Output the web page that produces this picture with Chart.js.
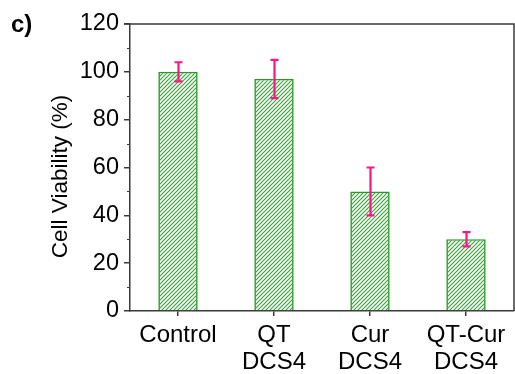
<!DOCTYPE html>
<html><head><meta charset="utf-8">
<script src="https://cdn.jsdelivr.net/npm/chart.js@4"></script>
<style>html,body{margin:0;padding:0;background:#fff}canvas{display:block}</style>
</head><body>
<canvas id="c" width="515" height="374"></canvas>
<script>
// Cell viability per treatment group (mean and error)
const categories = ['Control', ['QT', 'DCS4'], ['Cur', 'DCS4'], ['QT-Cur', 'DCS4']];
const viability = [100, 97, 50, 30];
const viabilityErr = [4, 8, 10, 3];
const yMajorStep = 20;
const yMinorTicks = [10, 30, 50, 70, 90, 110];
const yTitle = 'Cell Viability (%)';
const panelLabel = 'c)';

const canvas = document.getElementById('c');
const ctx = canvas.getContext('2d');

// diagonal green hatch fill for the bars
function makeHatch() {
  const t = document.createElement('canvas');
  t.width = 4; t.height = 4;
  const g = t.getContext('2d');
  g.fillStyle = '#ffffff';
  g.fillRect(0, 0, 4, 4);
  g.strokeStyle = '#3fa43f';
  g.lineWidth = 1.2;
  g.beginPath();
  g.moveTo(-1, 5); g.lineTo(5, -1);
  g.moveTo(-1, 1); g.lineTo(1, -1);
  g.moveTo(3, 5); g.lineTo(5, 3);
  g.stroke();
  return ctx.createPattern(t, 'repeat');
}

const AXIS = '#3a3a3a';
const FONT = 'Arial, "Liberation Sans", sans-serif';

// frame (top/right), minor y ticks, error bars, axis title and panel label
const decorations = {
  id: 'decorations',
  afterDatasetsDraw(chart) {
    const { ctx, scales: { x, y } } = chart;
    ctx.save();
    ctx.strokeStyle = '#ff1485';
    ctx.lineWidth = 2.2;
    viability.forEach((v, i) => {
      const px = Math.round(x.getPixelForValue(i)) + 0.5;
      const hi = y.getPixelForValue(v + viabilityErr[i]);
      const lo = y.getPixelForValue(v - viabilityErr[i]);
      ctx.beginPath();
      ctx.moveTo(px, hi); ctx.lineTo(px, lo);
      ctx.moveTo(px - 4, hi); ctx.lineTo(px + 4, hi);
      ctx.moveTo(px - 4, lo); ctx.lineTo(px + 4, lo);
      ctx.stroke();
    });
    ctx.restore();
  },
  afterDraw(chart) {
    const { ctx, chartArea: a, scales: { y } } = chart;
    ctx.save();
    ctx.strokeStyle = AXIS;
    ctx.lineWidth = 1.5;
    ctx.beginPath();
    ctx.moveTo(a.left - 6, a.top); ctx.lineTo(a.right, a.top); ctx.lineTo(a.right, a.bottom);
    ctx.stroke();
    ctx.lineWidth = 1;
    ctx.beginPath();
    yMinorTicks.forEach(v => {
      const py = Math.round(y.getPixelForValue(v)) + 0.5;
      ctx.moveTo(a.left - 3, py); ctx.lineTo(a.left, py);
    });
    ctx.stroke();

    ctx.fillStyle = '#000';
    ctx.font = '22.5px ' + FONT;
    ctx.textAlign = 'center';
    ctx.textBaseline = 'alphabetic';
    ctx.translate(66.5, 176.5);
    ctx.rotate(-Math.PI / 2);
    ctx.fillText(yTitle, 0, 0);
    ctx.setTransform(1, 0, 0, 1, 0, 0);

    ctx.font = 'bold 24px ' + FONT;
    ctx.textAlign = 'left';
    ctx.fillText(panelLabel, 11, 32);
    ctx.restore();
  }
};

new Chart(ctx, {
  type: 'bar',
  data: {
    labels: categories,
    datasets: [{
      data: viability,
      backgroundColor: makeHatch(),
      borderColor: '#2a962a',
      borderWidth: 1.6,
      borderSkipped: 'bottom',
      barPercentage: 0.41,
      categoryPercentage: 1
    }]
  },
  options: {
    responsive: false,
    animation: false,
    devicePixelRatio: 1,
    layout: { padding: { top: 24, right: 1, left: 0, bottom: 0 } },
    plugins: { legend: { display: false }, tooltip: { enabled: false } },
    scales: {
      x: {
        offset: true,
        grid: { offset: false, drawOnChartArea: false, drawTicks: true, tickLength: 5, color: AXIS, lineWidth: 1.5 },
        border: { color: AXIS, width: 1.5 },
        ticks: { color: '#000', padding: 6, maxRotation: 0, font: { family: FONT, size: 24, lineHeight: 1.13 } },
        afterFit(s) { s.height = 63; }
      },
      y: {
        min: 0, max: 120,
        grid: { drawOnChartArea: false, drawTicks: true, tickLength: 6, color: AXIS, lineWidth: 1.5 },
        border: { color: AXIS, width: 1.5 },
        ticks: { stepSize: yMajorStep, color: '#000', padding: 5, font: { family: FONT, size: 23.5 } },
        afterFit(s) { s.width = 130; }
      }
    }
  },
  plugins: [decorations]
});
</script>
</body></html>
